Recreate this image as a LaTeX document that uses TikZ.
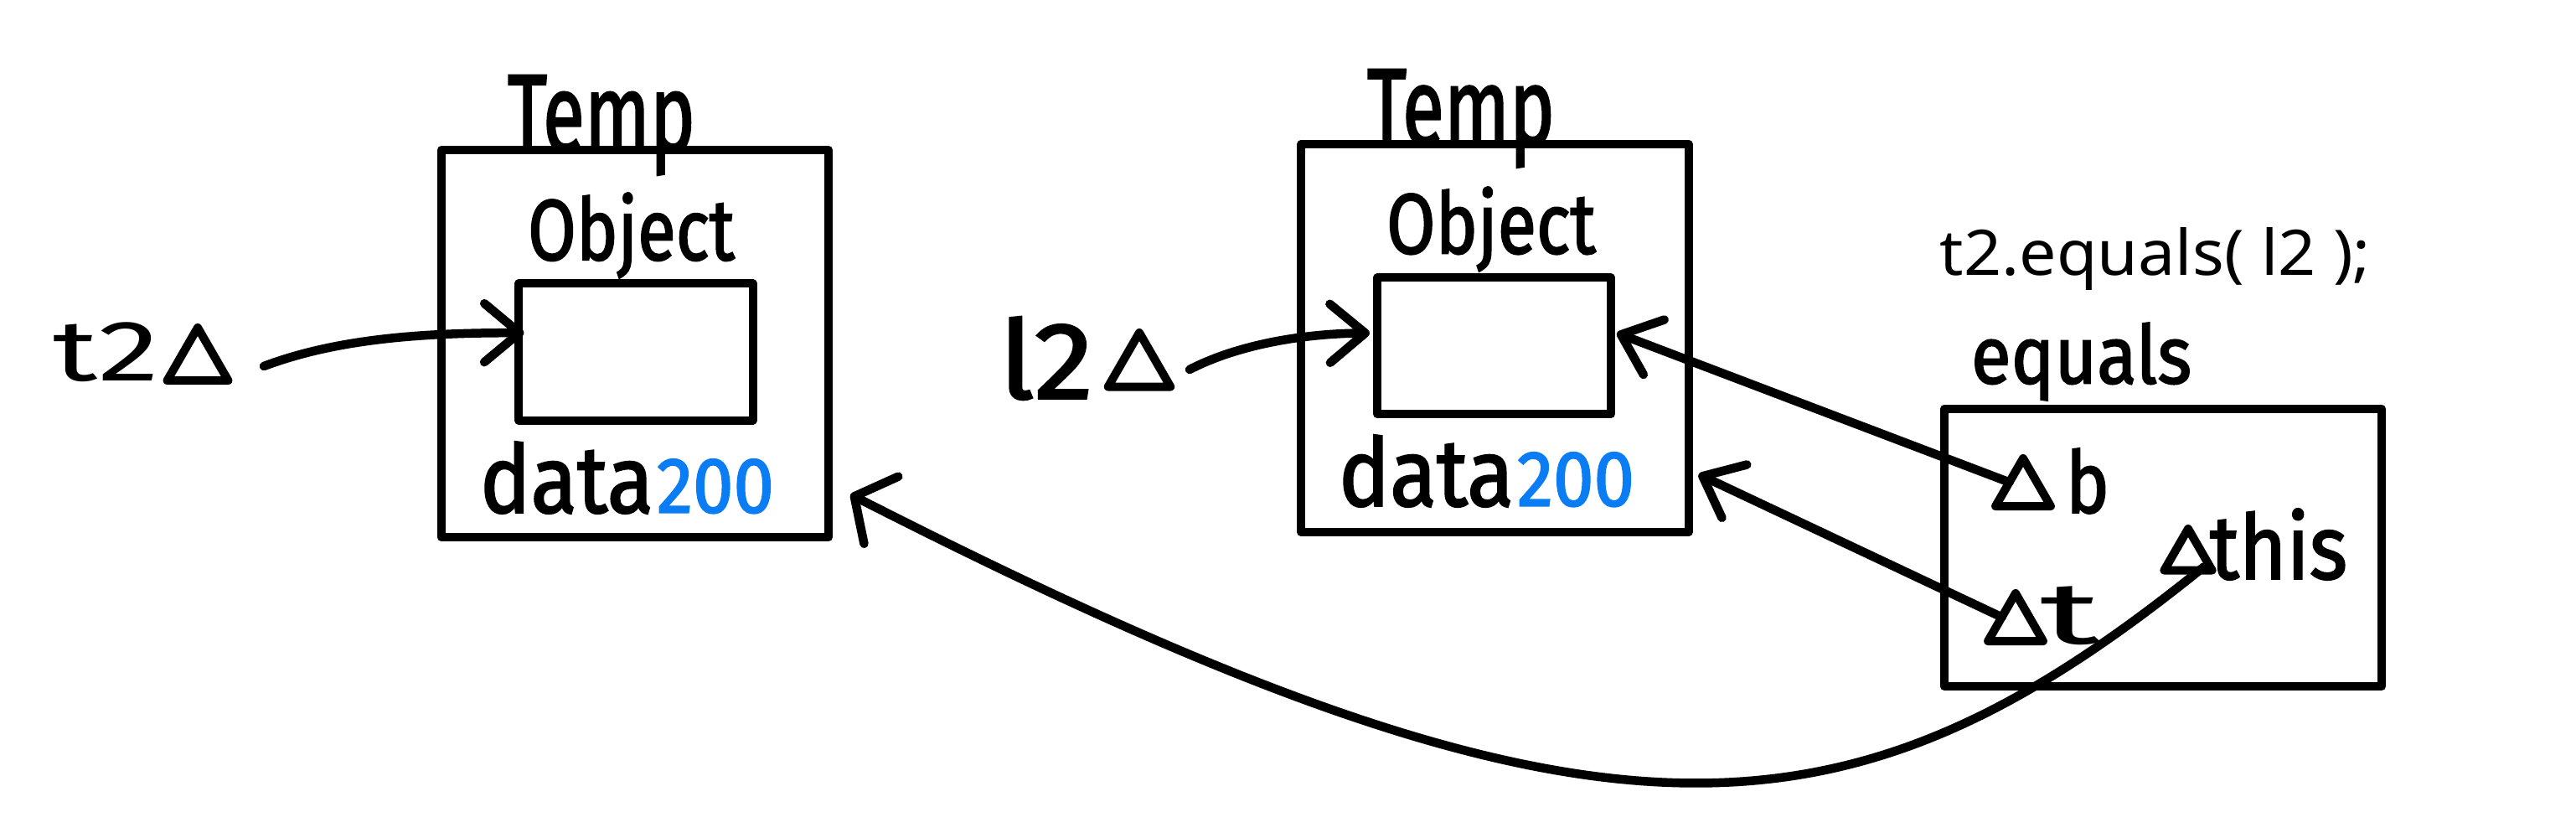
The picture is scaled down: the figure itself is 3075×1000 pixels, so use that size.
\documentclass[tikz,border=0pt]{standalone}
\usepackage{fontspec}
\usepackage{graphicx}
\usetikzlibrary{arrows.meta,shapes.geometric,calc}
\newfontfamily\handfont{Fira Sans}
\newfontfamily\handfontm[FakeBold=2]{Fira Sans}
\newfontfamily\codefont{Noto Sans}
\definecolor{numblue}{RGB}{10,125,245}
\newdimen\PX \PX=0.01cm
\newcommand\hw[3]{\resizebox*{#1\PX}{#2\PX}{\handfont #3}}
\newcommand\hb[3]{\resizebox*{#1\PX}{#2\PX}{\handfontm #3}}
\begin{document}
\begin{tikzpicture}[x=0.01cm,y=-0.01cm,
  box/.style={draw, line width=0.1cm, line join=round, inner sep=0pt, outer sep=0pt},
  hand/.style={inner sep=0pt, outer sep=0pt},
  tri/.style={draw, shape=regular polygon, regular polygon sides=3, line width=0.1cm, line join=round, inner sep=0pt, outer sep=0pt, minimum size=#1},
  arr/.style={line width=0.105cm, line cap=round, -{Straight Barb[length=0.42cm,width=0.7cm,round]}},
  arrw/.style={line width=0.105cm, line cap=round, -{Straight Barb[length=0.36cm,width=0.9cm,round]}}]
\fill[white] (0,0) rectangle (3075,1000);
\useasboundingbox (0,0) rectangle (3075,1000);
% boxes
\node[box, minimum width=4.62cm, minimum height=4.62cm] (box1) at (758,410) {};
\node[box, minimum width=2.79cm, minimum height=1.635cm] (in1) at (759,420) {};
\node[box, minimum width=4.62cm, minimum height=4.63cm] (box2) at (1784.5,403.5) {};
\node[box, minimum width=2.79cm, minimum height=1.625cm] (in2) at (1783.5,412.75) {};
\node[box, minimum width=5.22cm, minimum height=3.31cm] (eqbox) at (2582,653.5) {};
% labels first object
\node[hand] (temp1) at (718,149.5) {\hb{224}{119}{Temp}};
\node[hand] (obj1) at (753.5,281) {\hb{247}{102}{Object}};
\node[hand] (data1) at (748.5,570) {\hb{207}{86}{data}\kern4\PX\textcolor{numblue}{\hb{140}{65}{200}}};
\node[hand] (t2) at (127,420.5) {\hw{126}{71}{t2}};
\node[tri=0.84cm] (t2tri) at (236,433) {};
% labels second object
\node[hand] (temp2) at (1744,141.5) {\hb{224}{117}{Temp}};
\node[hand] (obj2) at (1780,273.5) {\hb{250}{101}{Object}};
\node[hand] (data2) at (1774.5,562) {\hb{209}{86}{data}\kern4\PX\textcolor{numblue}{\hb{140}{65}{200}}};
\node[hand] (l2) at (1249,427.5) {\hb{112}{99}{l2}};
\node[tri=0.86cm] (l2tri) at (1360,440) {};
% equals frame
\node[hand] (call) at (2573,308.5) {\resizebox*{514\PX}{75\PX}{\codefont t2.equals( l2 );}};
\node[hand] (eqlab) at (2484.5,431.5) {\hb{263}{93}{equals}};
\node[tri=0.76cm] (btri) at (2415,585) {};
\node[hand] (blab) at (2492,574) {\hb{52}{78}{b}};
\node[tri=0.76cm] (ttri) at (2406,746) {};
\node[hand] (tlab) at (2471,735) {\hw{72}{70}{t}};
\node[tri=0.66cm] (thistri) at (2612,664) {};
\node[hand] (thislab) at (2720,649.5) {\hb{164}{85}{this}};
% connectors
\coordinate (t2s) at (315,437);
\coordinate (l2s) at (1420,441);
\draw[arr] (t2s) .. controls (400,405) and (500,397) .. ($(in1.north west)+(6,59)$);
\draw[arr] (l2s) .. controls (1480,410) and (1560,398) .. ($(in2.north west)+(-9,66)$);
\draw[arr] (btri.side 1) -- ($(in2.north east)+(7,66)$);
\draw[arr] (ttri.side 1) -- ($(box2.east)+(12,162.5)$);
\draw[arrw] ($(thistri.corner 3)+(-10,-4)$) .. controls (2202,1023) and (1906,1044) .. ($(box1.east)+(26,180)$);
\end{tikzpicture}
\end{document}
